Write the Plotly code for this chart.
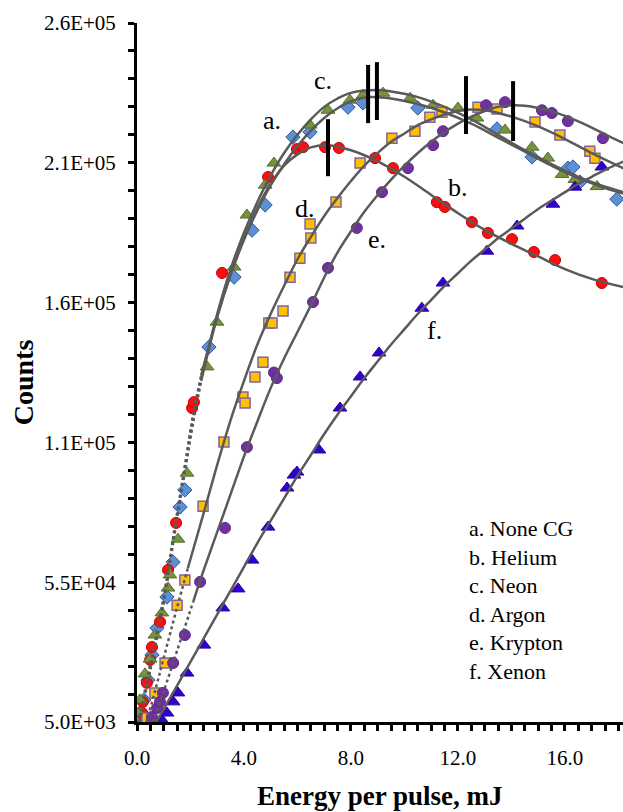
import plotly.graph_objects as go

# ---------------- data (x: mJ, y: counts) ----------------
a_x = [0.07, 0.15, 0.26, 0.41, 0.56, 0.75, 1.12, 1.35, 1.61, 1.79, 2.69, 3.63, 4.30, 4.79, 5.83, 6.47, 7.89, 8.45, 10.50, 13.46, 14.77, 16.11, 16.30, 16.56, 17.94]
a_y = [6400, 8600, 12900, 20000, 29000, 38600, 49700, 62200, 81900, 88000, 139100, 164100, 180900, 189900, 214200, 216000, 224900, 226400, 224600, 217100, 207100, 203100, 203500, 198100, 192000]

b_x = [0.19, 0.22, 0.37, 0.49, 0.56, 0.86, 1.16, 1.46, 2.06, 2.13, 3.18, 4.90, 5.98, 6.21, 7.03, 7.55, 8.90, 9.57, 11.21, 11.51, 12.52, 13.12, 14.02, 14.84, 15.63, 17.38]
b_y = [8200, 12200, 19000, 27200, 31800, 40800, 59400, 76200, 117300, 119400, 165600, 199900, 209900, 210600, 210600, 210300, 206700, 203100, 190900, 189200, 183800, 179900, 177700, 173100, 170200, 162000]

c_x = [0.04, 0.11, 0.30, 0.49, 0.67, 0.93, 1.16, 1.23, 1.53, 1.87, 2.62, 2.99, 3.63, 4.11, 4.79, 5.12, 6.47, 7.14, 7.96, 8.45, 9.20, 10.21, 11.07, 12.00, 12.71, 13.76, 14.77, 15.36, 15.89, 16.37, 17.20]
c_y = [8200, 12900, 22200, 27500, 36100, 44000, 52900, 57600, 70400, 94000, 132000, 148000, 167700, 186300, 197000, 204900, 218500, 223800, 227400, 229200, 229900, 228100, 225600, 224600, 221000, 216700, 210600, 206700, 200800, 199000, 196500]

d_x = [0.37, 0.67, 1.05, 1.50, 1.79, 2.47, 3.25, 3.96, 4.04, 4.41, 4.71, 4.93, 5.05, 5.46, 5.72, 6.09, 6.50, 6.47, 7.44, 8.34, 9.53, 10.39, 10.95, 11.40, 12.75, 13.46, 14.88, 15.81, 16.93, 17.12]
d_y = [6400, 15400, 26100, 46800, 55800, 82200, 105100, 121200, 119100, 128400, 133700, 147700, 147700, 152000, 164100, 170900, 178100, 183100, 191000, 204900, 213800, 216300, 221300, 223100, 224900, 224200, 219600, 214900, 209100, 206600]

e_x = [0.56, 0.75, 0.86, 0.97, 1.35, 1.79, 2.36, 3.29, 4.11, 5.12, 5.23, 6.58, 7.14, 8.22, 9.16, 10.13, 11.07, 11.44, 13.05, 13.76, 15.14, 15.51, 16.11, 17.42]
e_y = [6800, 10000, 12200, 15400, 26100, 36100, 55100, 74400, 103300, 130000, 128000, 155200, 167400, 181700, 194500, 203100, 211300, 216300, 225600, 226700, 223800, 222800, 219900, 213800]

f_x = [0.93, 1.12, 1.35, 1.53, 1.87, 2.50, 3.21, 3.78, 4.30, 4.90, 5.61, 5.87, 5.98, 6.80, 7.59, 8.34, 9.05, 10.65, 11.44, 13.08, 14.21, 15.55, 16.37, 17.38]
f_y = [5700, 8200, 12200, 15400, 22500, 32500, 45800, 52600, 62900, 74700, 88700, 93300, 94400, 102300, 117300, 128400, 137000, 153000, 162000, 173400, 182400, 190200, 196300, 203500]

# fitted trend curves
fit_a_x = [0.08, 0.5, 1.0, 1.4, 1.8, 2.1, 2.4, 3.0, 3.5, 4.0, 4.5, 5.0, 5.5, 6.0, 6.5, 7.0, 7.5, 8.0, 8.64, 9.5, 10.5, 11.5, 12.5, 13.5, 14.5, 15.5, 16.5, 17.5, 18.2]
fit_a_y = [5000, 24000, 48000, 72000, 95000, 112000, 127000, 150000, 165000, 177500, 188000, 197000, 204500, 211000, 216500, 221000, 224500, 227000, 228500, 228000, 226000, 223000, 219000, 214000, 209000, 204000, 199500, 196000, 194000]
fit_b_x = [0.1, 0.5, 1.0, 1.4, 1.8, 2.1, 2.4, 3.0, 3.5, 4.0, 4.5, 5.0, 5.5, 6.0, 6.5, 7.14, 8.0, 9.0, 10.0, 11.0, 12.0, 13.0, 14.0, 15.0, 16.0, 17.0, 18.2]
fit_b_y = [5000, 24000, 48000, 73000, 97000, 115000, 129000, 150000, 165000, 178000, 189000, 197500, 204000, 208000, 210500, 211300, 209500, 205500, 200000, 193500, 187000, 181000, 176000, 171500, 167000, 163500, 160500]
fit_c_x = [0.05, 0.5, 1.0, 1.4, 1.8, 2.1, 2.4, 3.0, 3.5, 4.0, 4.5, 5.0, 5.5, 6.0, 6.5, 7.0, 7.5, 8.0, 8.97, 9.5, 10.5, 11.5, 12.5, 13.5, 14.5, 15.5, 16.5, 17.5, 18.2]
fit_c_y = [5000, 26000, 50000, 74000, 97000, 114000, 128000, 151000, 167000, 180000, 191000, 200500, 208500, 215000, 220500, 225000, 228000, 230000, 231000, 230500, 228500, 225000, 220500, 215000, 209500, 204500, 200000, 196500, 194500]
fit_d_x = [0.35, 0.7, 1.0, 1.5, 1.9, 2.5, 3.0, 3.5, 4.0, 4.5, 5.0, 5.5, 6.0, 6.5, 7.0, 7.5, 8.0, 8.5, 9.0, 9.5, 10.0, 10.5, 11.0, 11.5, 12.3, 13.0, 14.0, 15.0, 16.0, 17.0, 18.2]
fit_d_y = [5000, 17000, 28000, 46000, 60000, 80000, 97000, 113000, 127000, 140000, 151000, 161000, 170500, 178500, 186000, 192500, 198500, 204000, 208500, 212500, 215500, 218500, 220500, 222300, 224000, 223800, 221500, 218000, 213500, 208500, 203000]
fit_e_x = [0.6, 1.0, 1.5, 2.1, 2.5, 3.0, 3.5, 4.0, 4.5, 5.0, 5.5, 6.0, 6.5, 7.0, 7.5, 8.0, 8.5, 9.0, 9.5, 10.0, 10.5, 11.0, 11.5, 12.0, 12.5, 13.0, 13.5, 14.06, 14.5, 15.0, 15.5, 16.0, 16.5, 17.0, 17.5, 18.2]
fit_e_y = [5000, 16000, 30500, 48000, 59500, 73000, 86500, 100000, 112500, 124500, 135000, 144500, 154000, 164000, 173000, 180500, 187500, 193500, 199000, 204000, 208500, 212500, 216000, 219000, 221500, 223500, 225000, 225600, 225400, 224600, 223400, 221800, 219800, 217600, 215200, 212000]
fit_f_x = [0.72, 1.5, 2.0, 2.5, 3.0, 3.5, 4.0, 4.5, 5.0, 5.5, 6.0, 6.5, 7.0, 7.5, 8.0, 8.5, 9.0, 9.5, 10.0, 10.5, 11.0, 11.5, 12.0, 12.5, 13.0, 13.5, 14.0, 14.5, 15.0, 15.5, 16.0, 16.5, 17.0, 17.5, 18.2]
fit_f_y = [5000, 18000, 26500, 35000, 43500, 52000, 60500, 69000, 77000, 85000, 93000, 100500, 108000, 115000, 121500, 128000, 134000, 140000, 145500, 151000, 156000, 161000, 165500, 170000, 174000, 178000, 181500, 185000, 188500, 191500, 194500, 197500, 200000, 202500, 205500]
# energy below which each trend is drawn dotted
dotted_until = [2.4, 2.4, 2.4, 1.9, 2.1, 0.0]

# peak markers (vertical bars)
peak_x = [7.14, 8.64, 8.97, 12.30, 14.06]
peak_lo = [200200, 219200, 220300, 215300, 212800]
peak_hi = [220600, 240000, 241000, 236000, 234200]

series_names = ["None CG", "Helium", "Neon", "Argon", "Krypton", "Xenon"]
series_letters = ["a.", "b.", "c.", "d.", "e.", "f."]
y_tickvals = [5000, 55000, 105000, 155000, 205000, 255000]
y_ticktext = ["5.0E+03", "5.5E+04", "1.1E+05", "1.6E+05", "2.1E+05", "2.6E+05"]
x_tickvals = [0, 4, 8, 12, 16]
x_ticktext = ["0.0", "4.0", "8.0", "12.0", "16.0"]

# ---------------- styles ----------------
SERIF = "Liberation Serif"
styles = [
    dict(symbol="diamond", size=11, color="#5B8FD6", line=dict(color="#2F5597", width=1)),
    dict(symbol="circle", size=11, color="#FF0D0D", line=dict(color="#C00000", width=1)),
    dict(symbol="triangle-up", size=12, color="#77933C", line=dict(color="#56702A", width=1)),
    dict(symbol="square", size=10, color="#FFC000", line=dict(color="#8064A2", width=1.5)),
    dict(symbol="circle", size=11, color="#7030A0", line=dict(color="#5A2A85", width=1)),
    dict(symbol="triangle-up", size=12, color="#3300CC", line=dict(color="#2200AA", width=1)),
]
LINE_COLOR = "#5A5A5A"

fig = go.Figure()

pts = [(a_x, a_y), (b_x, b_y), (c_x, c_y), (d_x, d_y), (e_x, e_y), (f_x, f_y)]
for (xs, ys), st, nm in zip(pts, styles, series_names):
    fig.add_trace(go.Scatter(x=xs, y=ys, mode="markers", name=nm, marker=st,
                             hoverinfo="skip", showlegend=False))

fits = [(fit_a_x, fit_a_y), (fit_b_x, fit_b_y), (fit_c_x, fit_c_y),
        (fit_d_x, fit_d_y), (fit_e_x, fit_e_y), (fit_f_x, fit_f_y)]
for (xs, ys), cut in zip(fits, dotted_until):
    dx = [x for x in xs if x <= cut]
    dy = [y for x, y in zip(xs, ys) if x <= cut]
    sx = [x for x in xs if x >= cut]
    sy = [y for x, y in zip(xs, ys) if x >= cut]
    if len(dx) > 1:
        fig.add_trace(go.Scatter(x=dx, y=dy, mode="lines", line_shape="spline",
                                 line=dict(color=LINE_COLOR, width=2.5, dash="dot"),
                                 hoverinfo="skip", showlegend=False))
    fig.add_trace(go.Scatter(x=sx, y=sy, mode="lines", line_shape="spline",
                             line=dict(color=LINE_COLOR, width=2.5),
                             hoverinfo="skip", showlegend=False))

bx, by = [], []
for px_, lo, hi in zip(peak_x, peak_lo, peak_hi):
    bx += [px_, px_, None]
    by += [lo, hi, None]
fig.add_trace(go.Scatter(x=bx, y=by, mode="lines", line=dict(color="black", width=4),
                         hoverinfo="skip", showlegend=False))

# in-plot letter labels
label_pos = [(5.05, 220300), (12.0, 196300), (6.95, 234600), (6.28, 188800), (8.97, 177400), (11.14, 145200)]
annotations = []
for (lx, ly), t in zip(label_pos, series_letters):
    annotations.append(dict(x=lx, y=ly, xref="x", yref="y", text=t, showarrow=False,
                            font=dict(family=SERIF, size=26, color="black")))

legend_text = "<br>".join(f"{l} {n}" for l, n in zip(series_letters, series_names))
annotations.append(dict(x=0.679, y=0.297, xref="paper", yref="paper", xanchor="left", yanchor="top",
                        align="left", text=legend_text, showarrow=False,
                        font=dict(family=SERIF, size=22, color="black")))

annotations.append(dict(x=0.5, y=0, xref="paper", yref="paper", xanchor="center", yanchor="top",
                        yshift=-57, text="<b>Energy per pulse, mJ</b>", showarrow=False,
                        font=dict(family=SERIF, size=27, color="black")))
annotations.append(dict(x=0, y=0.486, xref="paper", yref="paper", xanchor="center", yanchor="middle",
                        xshift=-114, textangle=-90, text="<b>Counts</b>", showarrow=False,
                        font=dict(family=SERIF, size=28, color="black")))

fig.update_layout(
    width=623, height=812,
    margin=dict(l=137, r=0, t=23, b=90, pad=0),
    paper_bgcolor="white", plot_bgcolor="white",
    showlegend=False, hovermode=False,
    annotations=annotations,
    xaxis=dict(range=[0, 18.17], showgrid=False, zeroline=False, showline=True,
               linecolor="black", linewidth=3, ticks="outside", ticklen=6, tickwidth=2.5,
               tickcolor="black", tickvals=x_tickvals, ticktext=x_ticktext,
               ticklabelstandoff=9,
               tickfont=dict(family=SERIF, size=21, color="black"),
               minor=dict(tick0=0, dtick=0.5, ticks="outside", ticklen=6, tickwidth=2.5, tickcolor="black")),
    yaxis=dict(range=[5000, 255000], showgrid=False, zeroline=False, showline=True,
               linecolor="black", linewidth=3, ticks="outside", ticklen=6, tickwidth=2.5,
               tickcolor="black", tickvals=y_tickvals, ticktext=y_ticktext,
               ticklabelstandoff=8,
               tickfont=dict(family=SERIF, size=21, color="black"),
               minor=dict(tick0=5000, dtick=10000, ticks="outside", ticklen=6, tickwidth=2.5, tickcolor="black")),
)

fig.write_html("out.html")
